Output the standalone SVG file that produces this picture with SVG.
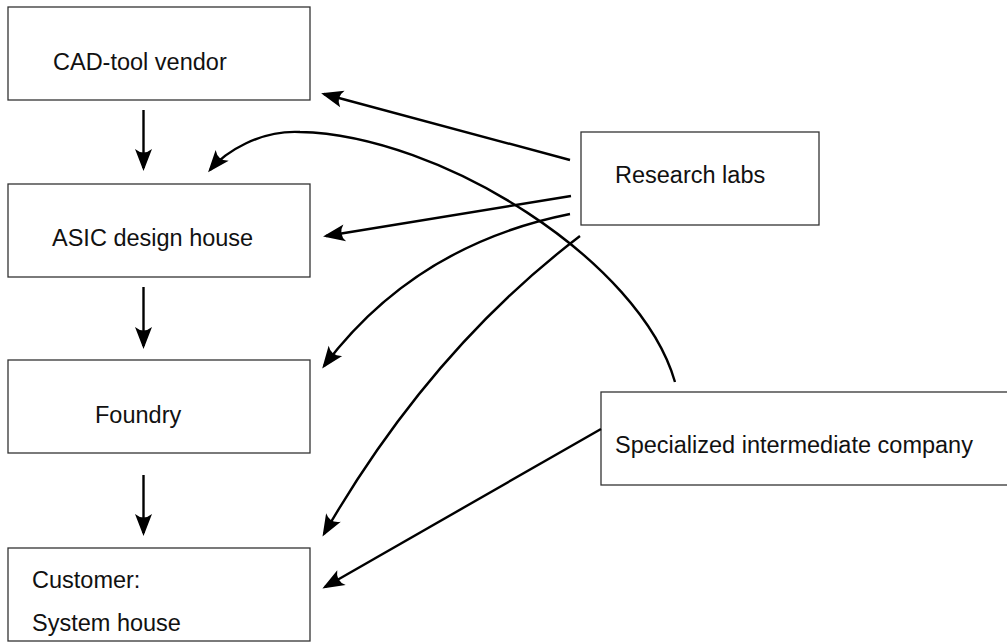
<svg xmlns="http://www.w3.org/2000/svg" width="1007" height="642" viewBox="0 0 1007 642">
<style>
.box{fill:#fff;stroke:#333;stroke-width:1.3}
.lbl{font-family:"Liberation Sans",Arial,sans-serif;font-size:23.5px;fill:#111}
.con{fill:none;stroke:#000;stroke-width:2.4;marker-end:url(#ah)}
</style>
<defs>
<marker id="ah" markerUnits="userSpaceOnUse" markerWidth="30" markerHeight="24" viewBox="-24 -12 30 24" refX="0" refY="0" orient="auto" overflow="visible">
<path d="M3,0 L-19,-8.5 Q-12,0 -19,8.5 Z" fill="#000"/>
</marker>
</defs>
<rect width="1007" height="642" fill="#fff"/>
<g id="cad"><rect class="box" x="8" y="7" width="302" height="93"/><text class="lbl" x="53" y="70">CAD-tool vendor</text></g>
<g id="asic"><rect class="box" x="8" y="184" width="302" height="93"/><text class="lbl" x="52" y="246">ASIC design house</text></g>
<g id="foundry"><rect class="box" x="8" y="360" width="302" height="93"/><text class="lbl" x="95" y="423">Foundry</text></g>
<g id="customer"><rect class="box" x="8" y="548" width="302" height="93"/><text class="lbl" x="32" y="588">Customer:</text><text class="lbl" x="32" y="631">System house</text></g>
<g id="research"><rect class="box" x="581" y="132" width="238" height="93"/><text class="lbl" x="615" y="183">Research labs</text></g>
<g id="specialized"><rect class="box" x="601" y="392" width="410" height="93"/><text class="lbl" x="615" y="453">Specialized intermediate company</text></g>
<g id="connectors">
<path class="con" d="M143.5,110 L143.5,168"/>
<path class="con" d="M143.5,287 L143.5,346"/>
<path class="con" d="M143.5,475 L143.5,533"/>
<path class="con" d="M570,160 L324,94"/>
<path class="con" d="M571,196 L326,236"/>
<path class="con" d="M675,382 C640,260 440,135 300,132 C260,130 225,152 210,170"/>
<path class="con" d="M570,214 Q415,245 324,366"/>
<path class="con" d="M580,236 Q430,350 324,534"/>
<path class="con" d="M601,429 L325,587"/>
</g>
</svg>
